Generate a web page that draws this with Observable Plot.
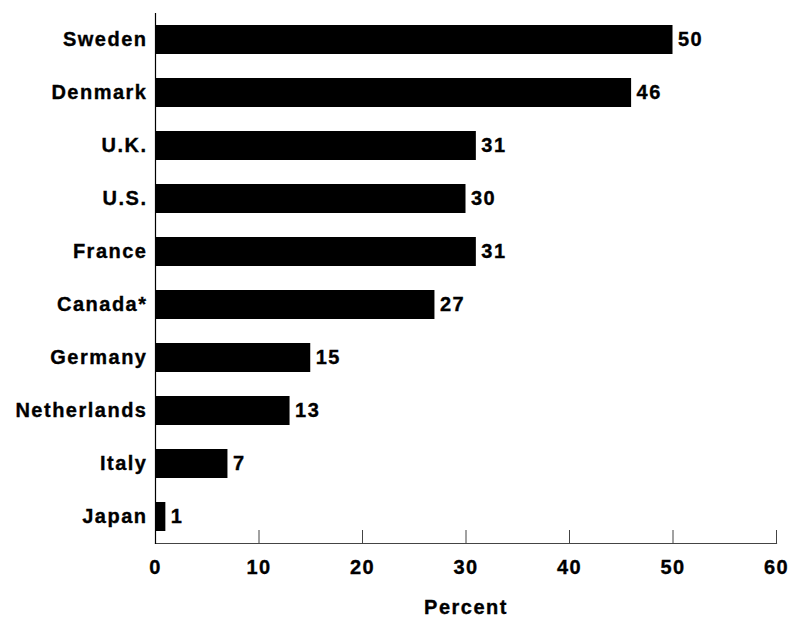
<!DOCTYPE html>
<html>
<head>
<meta charset="utf-8">
<script src="https://cdn.jsdelivr.net/npm/d3@7"></script>
<script src="https://cdn.jsdelivr.net/npm/@observablehq/plot@0.6"></script>
<style>
  html, body { margin: 0; padding: 0; background: #fff; }
  svg text { letter-spacing: 1.5px; stroke: #000; stroke-width: 0.35px; }
</style>
</head>
<body>
<div id="chart"></div>
<script>
const countries = ["Sweden", "Denmark", "U.K.", "U.S.", "France", "Canada*", "Germany", "Netherlands", "Italy", "Japan"];
const values = [50, 46, 31, 30, 31, 27, 15, 13, 7, 1];
const xTicks = [0, 10, 20, 30, 40, 50, 60];
const xLabel = "Percent";

const data = countries.map((c, i) => ({country: c, value: values[i]}));

const chart = Plot.plot({
  width: 794,
  height: 618,
  marginLeft: 155,
  marginRight: 18,
  marginTop: 13,
  marginBottom: 75,
  style: {fontFamily: "'Liberation Sans', Arial, sans-serif", fontSize: "20px", fontWeight: "bold", color: "#000", background: "#fff"},
  x: {domain: [0, 60], ticks: xTicks},
  y: {domain: countries, paddingInner: 0.45, paddingOuter: 0.225},
  marks: [
    Plot.barX(data, {x: "value", y: "country", fill: "#000"}),
    Plot.text(data, {x: "value", y: "country", text: d => String(d.value), textAnchor: "start", dx: 5, fill: "#000", fontSize: 20, fontWeight: "bold"}),
    Plot.ruleX(xTicks, {x: d => d, stroke: "#444", strokeWidth: 1, insetTop: 517}),
    Plot.frame({anchor: "bottom", stroke: "#444", strokeWidth: 1.2}),
    Plot.frame({anchor: "left", stroke: "#000", strokeWidth: 1.2}),
    Plot.axisX({ticks: xTicks, tickSize: 0, tickPadding: 16, fontSize: 20, fontWeight: "bold", label: null}),
    Plot.axisY({tickSize: 0, tickPadding: 8, fontSize: 20, fontWeight: "bold", label: null}),
    Plot.text([xLabel], {frameAnchor: "bottom", dy: 70, text: d => d, fontSize: 20, fontWeight: "bold", fill: "#000"})
  ]
});
document.getElementById("chart").appendChild(chart);
</script>
</body>
</html>
